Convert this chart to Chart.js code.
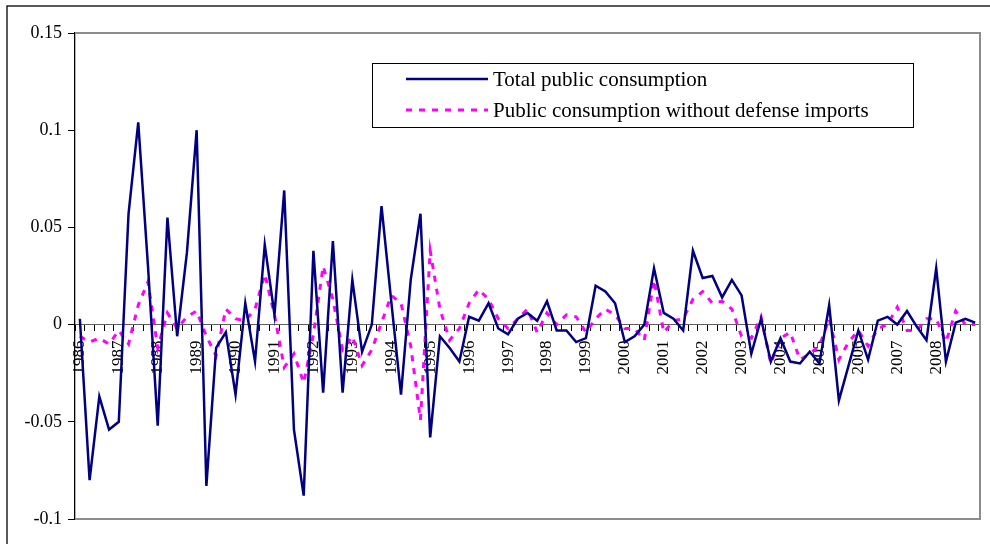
<!DOCTYPE html>
<html>
<head>
<meta charset="utf-8">
<script src="https://cdn.jsdelivr.net/npm/chart.js@4.4.1/dist/chart.umd.min.js"></script>
<style>
  body { margin: 0; background: #fff; }
  #wrap { width: 990px; height: 544px; position: relative; }
</style>
</head>
<body>
<div id="wrap"><canvas id="myChart"></canvas></div>
<script>
// quarterly data, 1986Q1 .. 2009Q1
const years = [1986, 1987, 1988, 1989, 1990, 1991, 1992, 1993, 1994, 1995, 1996, 1997,
  1998, 1999, 2000, 2001, 2002, 2003, 2004, 2005, 2006, 2007, 2008, 2009];
const quarters = years.flatMap((y) => ["Q1", "Q2", "Q3", "Q4"].map((q) => y + q)).slice(0, 93);
const yearLabels = ["1986", "1987", "1988", "1989", "1990", "1991", "1992", "1993", "1994",
  "1995", "1996", "1997", "1998", "1999", "2000", "2001", "2002", "2003", "2004", "2005",
  "2006", "2007", "2008"];

const totalPublic = [
  0.003, -0.080, -0.037, -0.054, -0.050, 0.057, 0.104, 0.030,
  -0.052, 0.055, -0.006, 0.037, 0.100, -0.083, -0.012, -0.004,
  -0.036, 0.011, -0.019, 0.041, 0.005, 0.069, -0.054, -0.088,
  0.038, -0.035, 0.043, -0.035, 0.023, -0.014, 0.000, 0.061,
  0.012, -0.036, 0.023, 0.057, -0.058, -0.006, -0.012, -0.019,
  0.004, 0.002, 0.011, -0.002, -0.005, 0.003, 0.006, 0.002,
  0.012, -0.003, -0.003, -0.009, -0.007, 0.020, 0.017, 0.011,
  -0.009, -0.006, 0.000, 0.029, 0.006, 0.003, -0.003, 0.038,
  0.024, 0.025, 0.014, 0.023, 0.015, -0.015, 0.003, -0.019,
  -0.007, -0.019, -0.020, -0.014, -0.020, 0.010, -0.039, -0.021,
  -0.003, -0.018, 0.002, 0.004, 0.000, 0.007, -0.001, -0.008,
  0.029, -0.019, 0.001, 0.003, 0.001,
];
const withoutDefense = [
  -0.006, -0.009, -0.007, -0.010, -0.003, -0.010, 0.010, 0.022,
  -0.012, 0.006, -0.002, 0.004, 0.007, -0.006, -0.016, 0.008,
  0.003, 0.002, 0.008, 0.026, 0.005, -0.022, -0.015, -0.030,
  -0.005, 0.030, 0.013, -0.013, -0.006, -0.021, -0.013, 0.001,
  0.015, 0.011, -0.011, -0.049, 0.038, 0.008, -0.008, -0.002,
  0.011, 0.018, 0.013, 0.003, -0.002, 0.003, 0.008, -0.004,
  0.006, 0.000, 0.005, 0.004, -0.004, 0.003, 0.008, 0.005,
  -0.002, -0.002, -0.008, 0.023, -0.004, 0.002, 0.003, 0.013,
  0.017, 0.011, 0.012, 0.008, -0.006, -0.007, 0.004, -0.020,
  -0.007, -0.004, -0.018, -0.015, -0.011, 0.003, -0.018, -0.009,
  -0.003, -0.011, -0.002, 0.000, 0.009, -0.003, -0.003, 0.003,
  0.003, -0.009, 0.007, 0.000, 0.000,
];
const seriesNames = ["Total public consumption", "Public consumption without defense imports"];

const serif = "'Liberation Serif', 'Times New Roman', serif";

// gray frame of the plot area + outer black frame
const frame = {
  id: "frame",
  beforeDatasetsDraw(chart) {
    const { ctx, chartArea: { top, bottom, left, right } } = chart;
    ctx.save();
    ctx.strokeStyle = "#000";
    ctx.lineWidth = 1.3;
    ctx.strokeRect(7, 6, 1100, 700);
    ctx.strokeStyle = "#8c8c8c";
    ctx.lineWidth = 2;
    ctx.beginPath();
    ctx.moveTo(left, top);
    ctx.lineTo(right, top);
    ctx.lineTo(right, bottom);
    ctx.lineTo(left, bottom);
    ctx.stroke();
    ctx.restore();
  },
};

// boxed legend in the upper part of the plot
const boxLegend = {
  id: "boxLegend",
  afterDatasetsDraw(chart) {
    const { ctx } = chart;
    const ds = chart.data.datasets;
    ctx.save();
    ctx.fillStyle = "#fff";
    ctx.fillRect(372, 63, 541, 64);
    ctx.strokeStyle = "#000";
    ctx.lineWidth = 1;
    ctx.strokeRect(372.5, 63.5, 541, 64);
    const rows = [79, 110];
    ds.forEach((d, i) => {
      ctx.beginPath();
      ctx.strokeStyle = d.borderColor;
      ctx.lineWidth = d.borderWidth;
      ctx.setLineDash(d.borderDash || []);
      ctx.moveTo(406, rows[i]);
      ctx.lineTo(488, rows[i]);
      ctx.stroke();
      ctx.setLineDash([]);
      ctx.fillStyle = "#000";
      ctx.font = "21px " + serif;
      ctx.textBaseline = "middle";
      ctx.fillText(d.label, 493, rows[i] + 1);
    });
    ctx.restore();
  },
};

const ctx = document.getElementById("myChart").getContext("2d");

new Chart(ctx, {
  type: "line",
  data: {
    labels: quarters,
    datasets: [
      {
        label: seriesNames[0],
        data: totalPublic,
        borderColor: "#000080",
        borderWidth: 2.5,
        pointRadius: 0,
        tension: 0,
      },
      {
        label: seriesNames[1],
        data: withoutDefense,
        borderColor: "#ff00ff",
        borderWidth: 3,
        borderDash: [6, 7],
        pointRadius: 0,
        tension: 0,
      },
    ],
  },
  options: {
    responsive: true,
    maintainAspectRatio: false,
    animation: false,
    layout: { padding: { top: 33, right: 10, bottom: 25, left: 0 } },
    scales: {
      x: {
        position: { y: 0 },
        offset: true,
        afterFit(scale) {
          scale.paddingLeft = 0;
          scale.paddingRight = 0;
        },
        border: { display: true, color: "#606060", width: 1 },
        grid: {
          offset: true,
          drawOnChartArea: false,
          drawTicks: true,
          tickLength: 6,
          color: "#000",
        },
        ticks: {
          autoSkip: false,
          minRotation: 90,
          maxRotation: 90,
          padding: 10,
          color: "#000",
          font: { family: serif, size: 17 },
          callback: (v, i) => (i % 4 === 0 && yearLabels[i / 4]) || "",
        },
      },
      y: {
        min: -0.1,
        max: 0.15,
        afterFit(scale) {
          scale.width = 75;
        },
        border: { display: true, color: "#000", width: 1.3 },
        grid: {
          drawOnChartArea: false,
          drawTicks: true,
          tickLength: 7,
          color: "#000",
        },
        ticks: {
          stepSize: 0.05,
          padding: 6,
          color: "#000",
          font: { family: serif, size: 18 },
          callback: (v) => String(Number(v.toFixed(2))),
        },
      },
    },
    plugins: {
      legend: { display: false },
      tooltip: { enabled: false },
    },
  },
  plugins: [frame, boxLegend],
});
</script>
</body>
</html>
